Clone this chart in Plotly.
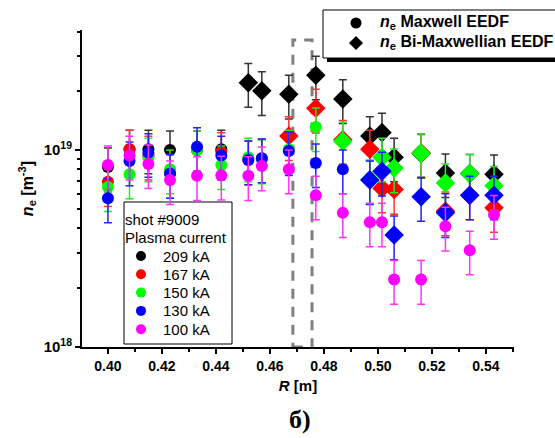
import plotly.graph_objects as go

# ---- data (values in units of 1e18 m^-3) ----
R = [0.400, 0.408, 0.415, 0.423, 0.433, 0.442, 0.452, 0.457, 0.467, 0.477,
     0.487, 0.497, 0.5015, 0.506, 0.516, 0.525, 0.534, 0.543]
N = None
black_max = [8.2, 10.1, 10.1, 10.0, 10.0, 10.1, N, N, N, N, N, N, N, N, N, N, N, N]
black_bi  = [N, N, N, N, N, N, 22.0, 20.0, 19.2, 24.0, 18.2, 11.8, 12.3, 9.2, 9.6, 7.65, 7.6, 7.55]
red_max   = [6.9, 10.1, 9.4, 7.6, 10.0, 9.8, 8.9, 9.1, N, N, N, N, N, N, N, N, N, N]
red_bi    = [N, N, N, N, N, N, N, N, 11.8, 16.3, 11.3, 10.1, 6.4, 6.3, 9.7, 4.9, 5.9, 5.1]
green_max = [6.5, 7.55, 9.2, 8.0, 10.0, 8.4, 9.2, 9.0, 10.1, 13.1, N, N, N, N, N, N, N, N]
green_bi  = [N, N, N, N, N, N, N, N, N, N, 11.1, 7.1, 9.2, 8.1, 9.65, 6.8, 7.6, 6.6]
blue_max  = [5.7, 8.8, 9.7, 7.6, 10.4, 9.4, 8.9, 9.1, 9.9, 8.6, 8.0, N, N, N, N, N, N, N]
blue_bi   = [N, N, N, N, N, N, N, N, N, N, N, 7.05, 7.8, 3.7, 5.8, 4.8, 5.9, 5.9]
mag_max   = [8.4, 9.4, 8.5, 7.05, 7.4, 7.45, 7.4, 8.3, 8.0, 5.9, 4.8, 4.3, 4.3, 2.2, 2.2, 4.1, 3.1, 4.7]
mag_bi    = [N] * 18
err_pct = 25

currents = ["209 kA", "167 kA", "150 kA", "130 kA", "100 kA"]
colors = ["#000000", "#FF0000", "#00FF00", "#0000FF", "#FF00FF"]
err_colors = ["#333333", "#FF3333", "#22EE22", "#2222FF", "#FF33FF"]
maxwell = [black_max, red_max, green_max, blue_max, mag_max]
bimax = [black_bi, red_bi, green_bi, blue_bi, mag_bi]

eedf_labels = ["<b><i>n</i><sub>e</sub> Maxwell EEDF</b>",
               "<b><i>n</i><sub>e</sub> Bi-Maxwellian EEDF</b>"]
legend2_title = ["shot #9009", "Plasma current"]

x_major = [0.40, 0.42, 0.44, 0.46, 0.48, 0.50, 0.52, 0.54]
x_minor = [0.41, 0.43, 0.45, 0.47, 0.49, 0.51, 0.53, 0.55]
y_major = [1e18, 1e19]
y_major_text = ["<b>10<sup>18</sup></b>", "<b>10<sup>19</sup></b>"]
y_minor = [2e18, 3e18, 4e18, 5e18, 6e18, 7e18, 8e18, 9e18, 2e19, 3e19, 4e19]
roi = [0.4685, 0.4756]

# ---- layout geometry (pixels) ----
W, H = 555, 438
ML, MR, MT, MB = 82, 41, 30, 91
PW, PH = W - ML - MR, H - MT - MB

def px(xp):
    return (xp - ML) / PW

def py(yp):
    return (H - MB - yp) / PH

def scale(v):
    return [None if a is None else a * 1e18 for a in v]

def circle_shape(cx, cy, r, color):
    return dict(type="circle", xref="paper", yref="paper",
                x0=px(cx - r), x1=px(cx + r), y0=py(cy + r), y1=py(cy - r),
                fillcolor=color, line=dict(width=0), layer="above")

def diamond_shape(cx, cy, r, color):
    path = "M {a},{b} L {c},{d} L {a},{e} L {f},{d} Z".format(
        a=px(cx), b=py(cy - r), c=px(cx + r), d=py(cy), e=py(cy + r), f=px(cx - r))
    return dict(type="path", xref="paper", yref="paper", path=path,
                fillcolor=color, line=dict(width=0), layer="above")

fig = go.Figure()
for i in range(5):
    for vals, sym, size in ((maxwell[i], "circle", 12), (bimax[i], "diamond", 15)):
        fig.add_trace(go.Scatter(
            x=R, y=scale(vals), mode="markers", showlegend=False, hoverinfo="skip",
            marker=dict(symbol=sym, size=size, color=colors[i], line=dict(width=0)),
            error_y=dict(type="percent", value=err_pct, color=err_colors[i], thickness=1.5, width=4),
        ))

# ---- legend 1 (EEDF type), top right ----
fig.add_shape(type="rect", xref="paper", yref="paper", x0=px(327), x1=px(570), y0=py(62), y1=py(54),
              fillcolor="black", line=dict(width=0), layer="below")
fig.add_shape(type="rect", xref="paper", yref="paper", x0=px(323), x1=px(570), y0=py(58), y1=py(10),
              fillcolor="white", line=dict(color="black", width=1), layer="below")
fig.add_shape(circle_shape(356, 23, 5.5, "black"))
fig.add_shape(diamond_shape(356, 43, 7, "black"))
for j, lab in enumerate(eedf_labels):
    fig.add_annotation(text=lab, xref="paper", yref="paper", x=px(378), y=py(23 + 20 * j),
                       xanchor="left", yanchor="middle", showarrow=False,
                       font=dict(family="Liberation Sans", size=16, color="black"))

# ---- legend 2 (plasma current), bottom left ----
fig.add_shape(type="rect", xref="paper", yref="paper", x0=px(124), x1=px(232), y0=py(344), y1=py(202),
              fillcolor="white", line=dict(color="black", width=1), layer="below")
for j, t in enumerate(legend2_title):
    fig.add_annotation(text=t, xref="paper", yref="paper", x=px(123), y=py(219 + 19 * j),
                       xanchor="left", yanchor="middle", showarrow=False,
                       font=dict(family="Liberation Sans", size=15, color="black"))
for k, c in enumerate(currents):
    fig.add_shape(circle_shape(141, 256 + 18.3 * k, 5, colors[k]))
    fig.add_annotation(text=c, xref="paper", yref="paper", x=px(161), y=py(256 + 18.3 * k),
                       xanchor="left", yanchor="middle", showarrow=False,
                       font=dict(family="Liberation Sans", size=15, color="black"))

# dashed region
fig.add_shape(type="rect", xref="x", yref="paper", x0=roi[0], x1=roi[1], y0=0, y1=py(40),
              line=dict(color="#808080", width=3, dash="10px,8px"), layer="below")

fig.add_annotation(text="<b>б)</b>", xref="paper", yref="paper", x=px(300), y=py(420),
                   showarrow=False, yanchor="middle",
                   font=dict(family="Liberation Serif", size=26, color="black"))

fig.update_layout(
    width=W, height=H,
    margin=dict(l=ML, r=MR, t=MT, b=MB, autoexpand=False),
    paper_bgcolor="white", plot_bgcolor="rgba(0,0,0,0)",
    font=dict(family="Liberation Sans", size=14, color="black"),
    showlegend=False,
    xaxis=dict(range=[0.3904, 0.5504], showgrid=False, zeroline=False,
               showline=True, linecolor="black", linewidth=2, mirror=False,
               ticks="outside", ticklen=5, tickwidth=2, tickcolor="black",
               tickvals=x_major, ticktext=["<b>%.2f</b>" % v for v in x_major],
               tickfont=dict(size=14),
               minor=dict(tickvals=x_minor, ticks="outside", ticklen=3, tickwidth=2, tickcolor="black"),
               title=dict(text="<b><i>R</i> [m]</b>", font=dict(size=15), standoff=8)),
    yaxis=dict(type="log", range=[18, 19.61], showgrid=False, zeroline=False,
               showline=True, linecolor="black", linewidth=2, mirror=False,
               ticks="outside", ticklen=5, tickwidth=2, tickcolor="black",
               tickvals=y_major, ticktext=y_major_text, tickfont=dict(size=15),
               minor=dict(tickvals=y_minor, ticks="outside", ticklen=3, tickwidth=2, tickcolor="black"),
               title=dict(text="<b><i>n</i><sub>e</sub> [m<sup>-3</sup>]</b>", font=dict(size=16), standoff=6)),
)

fig.write_html("out.html")
